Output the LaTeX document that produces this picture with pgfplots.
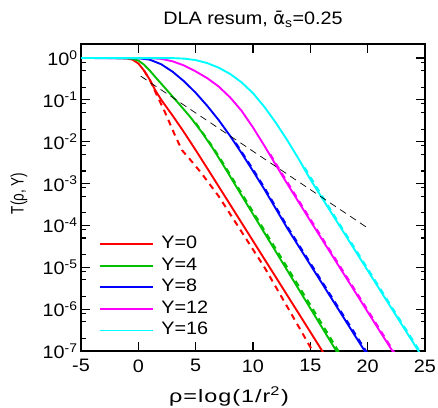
\documentclass[border=0pt]{standalone}
\usepackage{pgfplots}
\pgfplotsset{compat=1.18}
\usepackage{fontspec}
\setmainfont[FakeStretch=1.1]{Liberation Sans}
\newfontfamily\ylabfont[FakeStretch=0.75]{Liberation Sans}
\newfontfamily\xlabfont[FakeStretch=1.3]{Liberation Sans}
\newfontfamily\grk{DejaVu Sans}

\definecolor{cred}{RGB}{255,0,0}
\definecolor{cgreen}{RGB}{0,192,0}
\definecolor{cblue}{RGB}{0,0,255}
\definecolor{cmag}{RGB}{255,0,255}
\definecolor{ccyan}{RGB}{0,255,255}

\begin{document}
\begin{tikzpicture}
\begin{semilogyaxis}[
    name=ax,
    scale only axis,
    width=344bp, height=307bp,
    xmin=-5, xmax=25, ymin=1e-7, ymax=2.16,
    xtick={-5,0,5,10,15,20,25},
    xticklabels={-5,0,5,10,15,20,25},
    ytick={1e-7,1e-6,1e-5,1e-4,1e-3,1e-2,1e-1,1},
    yticklabels={10\textsuperscript{-7},10\textsuperscript{-6},10\textsuperscript{-5},10\textsuperscript{-4},10\textsuperscript{-3},10\textsuperscript{-2},10\textsuperscript{-1},10\textsuperscript{0}},
    minor ytick={2e-7,5e-7,8e-7,2e-6,5e-6,8e-6,2e-5,5e-5,8e-5,2e-4,5e-4,8e-4,2e-3,5e-3,8e-3,2e-2,5e-2,8e-2,0.2,0.5,0.8},
    minor xtick={},
    tick align=inside,
    major tick length=9bp, minor tick length=4.5bp,
    axis line style={line width=1.4bp},
    tick style={black, line width=1.1bp},
    ticklabel style={font=\fontsize{18bp}{21bp}\selectfont},
    xticklabel style={yshift=-5bp},
    legend cell align=left,
    legend style={draw=none, fill=none, inner sep=0pt,
        at={(0.051,0.031)}, anchor=south west,
        font=\fontsize{18bp}{21bp}\selectfont,
        nodes={text height=12bp, text depth=3bp, inner sep=3.3bp}},
    legend image code/.code={\draw[#1] plot coordinates {(0bp,0bp) (26.5bp,0bp) (53bp,0bp)}; \path (57.4bp,0bp);},
]

% dashed curves
\addplot[cred, line width=2bp, dash pattern=on 6bp off 5bp, forget plot] coordinates {
    (0.5,0.501) (1.05,0.2818) (1.6,0.1318) (2.2,0.06026) (2.65,0.03162)
    (3.2,1.413e-2) (3.8,6.31e-3) (4.5,3.802e-3) (5.5,1.778e-3) (7,5.012e-4)
    (9,7.079e-5) (11,1e-5) (13,1.122e-6) (15.2,1e-7) (15.4,7.943e-8)
};
\addplot[cgreen, line width=2bp, dash pattern=on 6bp off 5bp, forget plot] coordinates {
    (5,2.818e-2) (6.5,7.413e-3) (7.5,2.754e-3) (9,5.888e-4) (11,7.586e-5)
    (13,9.772e-6) (15,1.259e-6) (17.4,1.047e-7) (17.7,7.943e-8)
};
\addplot[cblue, line width=2bp, dash pattern=on 6bp off 5bp, forget plot] coordinates {
    (8.5,9.33e-3) (10,2.188e-3) (11,7.943e-4) (13,9.333e-5) (15,1.259e-5)
    (17,1.698e-6) (19,2.344e-7) (20.1,7.762e-8)
};
\addplot[cmag, line width=2bp, dash pattern=on 6bp off 5bp, forget plot] coordinates {
    (11.5,5.012e-3) (13,1.072e-3) (15,1.413e-4) (17,1.905e-5) (19,2.570e-6)
    (21,3.467e-7) (22.4,8.511e-8)
};
\addplot[ccyan, line width=2bp, dash pattern=on 6bp off 5bp, forget plot] coordinates {
    (14.5,2.399e-3) (17,1.862e-4) (19,2.512e-5) (21,3.388e-6) (23,4.571e-7)
    (24.6,9.333e-8)
};

% solid curves, Y = 0, 4, 8, 12, 16
\addplot[cred, line width=1.9bp] coordinates {
    (-5,1) (-2,0.998) (-1,0.977) (-0.5,0.912) (0,0.741) (0.5,0.501)
    (1,0.302) (1.5,0.166) (2,0.1) (3,0.04169) (4,0.0166) (5,6.31e-3)
    (6,2.344e-3) (8,3.162e-4) (10,4.266e-5) (12,5.754e-6) (14,7.762e-7)
    (16.2,8.51e-8)
};
\addlegendentry{Y=0}
\addplot[cgreen, line width=1.9bp] coordinates {
    (-5,1) (-2,0.999) (-1,0.9886) (-0.5,0.955) (0,0.871) (0.5,0.6918)
    (1,0.5012) (1.5,0.3467) (2.5,0.1698) (3.5,8.318e-2) (4.5,3.981e-2)
    (5.5,1.738e-2) (6.5,6.918e-3) (7.5,2.512e-3) (9,5.248e-4) (11,6.607e-5)
    (13,8.318e-6) (15,1.047e-6) (17.2,1.072e-7) (17.5,7.943e-8)
};
\addlegendentry{Y=4}
\addplot[cblue, line width=1.9bp] coordinates {
    (-5,1) (0,0.9886) (1,0.912) (2,0.7079) (3,0.4677) (4,0.2754) (5,0.1479)
    (6,7.244e-2) (7,3.311e-2) (8,1.380e-2) (9,5.370e-3) (10,1.995e-3)
    (11,7.244e-4) (13,8.511e-5) (15,1.148e-5) (17,1.549e-6) (19,2.089e-7)
    (20,7.762e-8)
};
\addlegendentry{Y=8}
\addplot[cmag, line width=1.9bp] coordinates {
    (-5,1) (1,0.9931) (2,0.955) (3,0.8318) (4,0.6607) (5,0.4786) (6,0.3311)
    (7,0.2089) (8,0.1148) (9,5.495e-2) (10,2.188e-2) (11,7.943e-3)
    (12,2.754e-3) (13,9.772e-4) (15,1.288e-4) (17,1.738e-5) (19,2.344e-6)
    (21,3.162e-7) (22.3,8.71e-8)
};
\addlegendentry{Y=12}
\addplot[ccyan, line width=1.9bp] coordinates {
    (-5,1) (3,0.9931) (4,0.966) (5,0.8913) (6,0.7586) (7,0.5888) (8,0.4169)
    (9,0.2630) (10,0.1445) (11,6.761e-2) (12,2.818e-2) (13,1.072e-2)
    (14,3.802e-3) (15,1.259e-3) (17,1.698e-4) (19,2.291e-5) (21,3.090e-6)
    (23,4.169e-7) (24.5,9.333e-8)
};
\addlegendentry{Y=16}

% black reference line
\addplot[black, line width=0.7bp, dash pattern=on 7bp off 5bp, forget plot] coordinates {
    (0.2,0.37) (20,8.7e-5)
};

\end{semilogyaxis}

% fixed page size, labels placed as in the reference
\pgfresetboundingbox
\path[use as bounding box] ([xshift=-81bp,yshift=-57bp]ax.south west) rectangle ([xshift=13bp,yshift=44bp]ax.north east);
\node[anchor=base, font=\fontsize{18bp}{21bp}\selectfont, inner sep=0pt]
    at ([yshift=19bp]ax.north) {DLA resum, {\grk ᾱ}\textsubscript{s}=0.25};
\node[anchor=base, font=\fontsize{18bp}{21bp}\xlabfont, inner sep=0pt]
    at ([xshift=-24bp,yshift=-51bp]ax.south) {ρ\kern1bp=\kern1bp l\kern1bp o\kern1bp g\kern1bp (\kern1bp 1\kern1bp /\kern1bp r\textsuperscript{2}\kern1bp)};
\node[rotate=90, anchor=center, font=\fontsize{18bp}{21bp}\ylabfont, inner sep=0pt]
    at ([xshift=-62bp,yshift=4bp]ax.west) {T(ρ, Y)};
\end{tikzpicture}
\end{document}
